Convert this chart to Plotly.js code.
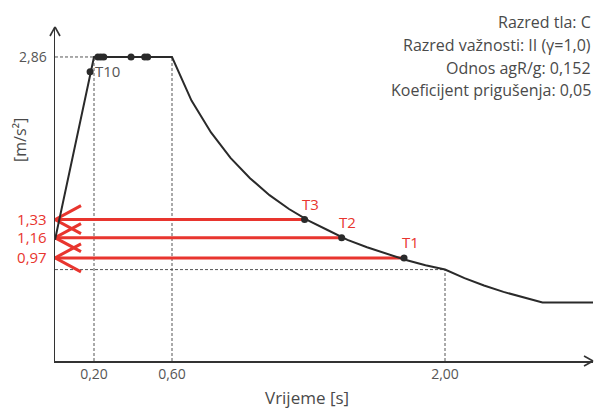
<!DOCTYPE html>
<html>
<head>
<meta charset="utf-8">
<script src="https://cdn.plot.ly/plotly-3.0.1.min.js"></script>
<style>html,body{margin:0;padding:0;background:#fff;}#chart{width:596px;height:408px;}</style>
</head>
<body>
<div id="chart"></div>
<script>
// ---- data ----
const spectrumPeriods = [0, 0.2, 0.6, 0.7, 0.8, 0.9, 1.0, 1.1, 1.2, 1.3, 1.4, 1.5, 1.6, 1.7, 1.8, 1.9, 2.0, 2.1, 2.2, 2.3, 2.4, 2.5, 2.76];
const spectrumValues  = [1.14, 2.86, 2.86, 2.45, 2.15, 1.91, 1.72, 1.56, 1.43, 1.32, 1.23, 1.14, 1.07, 1.01, 0.95, 0.90, 0.86, 0.78, 0.71, 0.65, 0.60, 0.55, 0.55];

const modePeriodsBlack = [0.18, 0.22, 0.235, 0.25, 0.39, 0.46, 0.475];
const modeValuesBlack  = [2.72, 2.86, 2.86, 2.86, 2.86, 2.86, 2.86];

const modeLabelsRed  = ["T3", "T2", "T1"];
const modePeriodsRed = [1.28, 1.47, 1.79];
const modeValuesRed  = [1.33, 1.16, 0.97];
const redTickText    = ["1,33", "1,16", "0,97"];

const cornerPeriods  = [0.2, 0.6, 2.0];
const cornerTickText = ["0,20", "0,60", "2,00"];
const plateauValue   = 2.86;
const plateauText    = "2,86";
const valueAtTD      = 0.86;

const infoLines = ["Razred tla: C", "Razred važnosti: II (γ=1,0)", "Odnos agR/g: 0,152", "Koeficijent prigušenja: 0,05"];
const xTitle = "Vrijeme [s]";
const yTitle = "[m/s²]";

// ---- styling ----
const RED = "#e8352e";
const BLACK = "#2a2a2a";
const GREY = "#555555";
const DASH = "#555555";
const FONT = "'Open Sans', sans-serif";

const W = 596, H = 408;
const mL = 55, mR = 3, mT = 27, mB = 47;
const PW = W - mL - mR, PH = H - mT - mB;
const xPerPx = 1 / 195, yPerPx = 1 / 106.3;
const xMax = PW * xPerPx;
const yMax = PH * yPerPx;
const px2py = py => (H - mB - py) / PH;

const traces = [];

// red arrows (horizontal lines + chevrons), from the data
const armDx = 26 * xPerPx, armDy = 14 * yPerPx;
modeValuesRed.forEach((v, i) => {
  traces.push({
    x: [modePeriodsRed[i], 0], y: [v, v], mode: "lines",
    line: {color: RED, width: 3}, hoverinfo: "skip", showlegend: false, cliponaxis: false
  });
  traces.push({
    x: [armDx, 0, armDx], y: [v + armDy, v, v - armDy], mode: "lines",
    line: {color: RED, width: 3}, hoverinfo: "skip", showlegend: false, cliponaxis: false
  });
});

// spectrum curve
traces.push({
  x: spectrumPeriods, y: spectrumValues, mode: "lines",
  line: {color: BLACK, width: 2}, hoverinfo: "skip", showlegend: false, cliponaxis: false
});

// mode markers
traces.push({
  x: modePeriodsBlack, y: modeValuesBlack, mode: "markers",
  marker: {color: BLACK, size: 7}, showlegend: false, cliponaxis: false
});
traces.push({
  x: modePeriodsRed, y: modeValuesRed, mode: "markers",
  marker: {color: BLACK, size: 7}, showlegend: false, cliponaxis: false
});

// dashed guide lines
const dashLine = {color: DASH, width: 1, dash: "3px,2px"};
const axisLine = {color: "#333", width: 1.6};
// arrow arm in paper units, offsets given in pixels
const arrowArm = (xa, ya, dxPx, dyPx) => ({
  type: "line", xref: "paper", yref: "paper",
  x0: xa, y0: ya, x1: xa + dxPx / PW, y1: ya + dyPx / PH, line: axisLine
});
const shapes = [
  {type: "line", layer: "below", x0: 0, x1: cornerPeriods[0], y0: plateauValue, y1: plateauValue, line: dashLine},
  {type: "line", layer: "below", x0: cornerPeriods[0], x1: cornerPeriods[0], y0: 0, y1: plateauValue, line: dashLine},
  {type: "line", layer: "below", x0: cornerPeriods[1], x1: cornerPeriods[1], y0: 0, y1: plateauValue, line: dashLine},
  {type: "line", layer: "below", x0: 0, x1: cornerPeriods[2], y0: valueAtTD, y1: valueAtTD, line: dashLine},
  {type: "line", layer: "below", x0: cornerPeriods[2], x1: cornerPeriods[2], y0: 0, y1: valueAtTD, line: dashLine},
  // axis arrowheads
  arrowArm(1, 0, -9, -5), arrowArm(1, 0, -9, 5),
  arrowArm(0, 1, -5, -9), arrowArm(0, 1, 5, -9)
];

const annotations = infoLines.map((t, i) => ({
  xref: "paper", yref: "paper", x: 1, xanchor: "right", y: px2py([22, 45, 68, 90][i]), yanchor: "middle",
  text: t, showarrow: false, font: {family: FONT, size: 16, color: "#4a4a4a"}
}));
annotations.push({
  xref: "paper", yref: "paper", x: (307 - mL) / PW, y: px2py(397), yanchor: "middle",
  text: xTitle, showarrow: false, font: {family: FONT, size: 17, color: "#4a4a4a"}
});
annotations.push({
  xref: "paper", yref: "paper", x: (20 - mL) / PW, y: px2py(140), xanchor: "center", yanchor: "middle",
  text: yTitle, textangle: -90, showarrow: false, font: {family: FONT, size: 16, color: "#4a4a4a"}
});
// mode labels
modeLabelsRed.forEach((t, i) => annotations.push({
  x: modePeriodsRed[i], y: modeValuesRed[i], text: t, showarrow: false,
  xshift: 6, yshift: 16, font: {family: FONT, size: 15, color: RED}
}));
annotations.push({
  x: modePeriodsBlack[0], y: modeValuesBlack[0], text: "T10", showarrow: false,
  xanchor: "left", xshift: 3, yshift: 1, font: {family: FONT, size: 15, color: GREY}
});

const yTickVals = modeValuesRed.concat([plateauValue]);
const yTickText = redTickText.map(t => `<span style="color:${RED};font-size:15px">${t}</span>`).concat([plateauText]);

const layout = {
  width: W, height: H,
  margin: {l: mL, r: mR, t: mT, b: mB},
  paper_bgcolor: "#fff", plot_bgcolor: "#fff",
  font: {family: FONT, color: GREY, size: 14},
  xaxis: {
    range: [0, xMax], showgrid: false, zeroline: false,
    showline: true, linecolor: "#333", linewidth: 1.5,
    tickvals: cornerPeriods, ticktext: cornerTickText, ticks: "", ticklabelstandoff: 0,
    tickfont: {family: FONT, size: 14, color: GREY}, fixedrange: true
  },
  yaxis: {
    range: [0, yMax], showgrid: false, zeroline: false,
    showline: true, linecolor: "#333", linewidth: 1.5,
    tickvals: yTickVals, ticktext: yTickText, ticks: "", ticklabelstandoff: 4,
    tickfont: {family: FONT, size: 14, color: GREY}, fixedrange: true
  },
  shapes: shapes,
  annotations: annotations,
  showlegend: false
};

Plotly.newPlot("chart", traces, layout, {displayModeBar: false, staticPlot: true});
</script>
</body>
</html>
